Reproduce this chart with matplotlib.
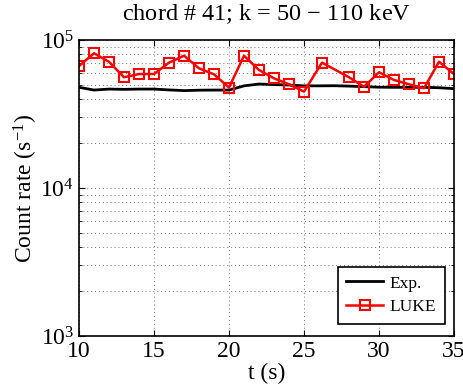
import numpy as np
from matplotlib import pyplot as plt
from matplotlib.ticker import LogLocator, NullFormatter

plt.rcParams['font.family'] = ['Liberation Serif', 'DejaVu Serif']
plt.rcParams['mathtext.fontset'] = 'custom'
plt.rcParams['mathtext.rm'] = 'Liberation Serif'
plt.rcParams['mathtext.it'] = 'Liberation Serif:italic'

# experimental count rate
t_exp = [10, 11, 12, 13, 14, 15, 16, 17, 18, 19, 20, 21, 22,
         23, 24, 25, 26, 27, 28, 29, 30, 31, 32, 33, 34, 35]
rate_exp = [47900, 45900, 46600, 46400, 46600, 46600, 46000, 45500, 45800,
            45900, 45900, 49000, 50400, 50000, 49600, 49000, 49000, 49100,
            48800, 48400, 48000, 47900, 47900, 47900, 47600, 46900]

# LUKE simulation
t_luke = [10, 11, 12, 13, 14, 15, 16, 17, 18, 19, 20, 21, 22, 23, 24, 25,
          26.2, 28, 29, 30, 31, 32, 33, 34, 35]
rate_luke = [66700, 81300, 71300, 56000, 58900, 58900, 70300, 78300, 64400,
             58600, 47700, 78300, 62700, 55100, 50200, 44800, 70300, 56000,
             48300, 60500, 53700, 50200, 47200, 71300, 58900]

fig = plt.figure(figsize=(4.64, 3.90), dpi=100)
ax = fig.add_axes([79/464, 1 - 336/390, 375/464, 296/390])

ax.semilogy(t_exp, rate_exp, color='black', lw=2, label='Exp.')
ax.semilogy(t_luke, rate_luke, color='red', lw=1.8, marker='s', ms=6.5,
            mfc='none', mec='red', mew=1.5, label='LUKE')

ax.set_xlim(10, 35)
ax.set_ylim(1e3, 1e5)
ax.set_xticks([10, 15, 20, 25, 30, 35])
ax.yaxis.set_major_locator(LogLocator(base=10, numticks=5))
ax.yaxis.set_minor_locator(LogLocator(base=10, subs=np.arange(2, 10), numticks=20))
ax.yaxis.set_minor_formatter(NullFormatter())

ax.grid(True, which='major', axis='both', ls=(0, (1, 3)), color='#777777', lw=0.7)
ax.grid(True, which='minor', axis='y', ls=(0, (1, 3)), color='#777777', lw=0.7)

ax.tick_params(which='both', direction='in', top=True, right=True, labelsize=17)
ax.tick_params(which='major', length=4)
ax.tick_params(which='minor', length=2)
for s in ax.spines.values():
    s.set_linewidth(1.2)

ax.set_title('chord # 41; k = 50 $-$ 110 keV', fontsize=17.5, pad=14)
ax.set_xlabel('t (s)', fontsize=17, labelpad=1)
ax.set_ylabel('Count rate (s$^{-1}$)', fontsize=17, labelpad=0)

leg = ax.legend(loc='lower right', fontsize=12.5, fancybox=False, framealpha=1,
                edgecolor='black', handlelength=2.1, borderpad=0.5,
                labelspacing=0.45, handletextpad=0.4, borderaxespad=0,
                bbox_to_anchor=(0.976, 0.04))
leg.get_frame().set_linewidth(1.2)

fig.savefig('out.png', dpi=100)
